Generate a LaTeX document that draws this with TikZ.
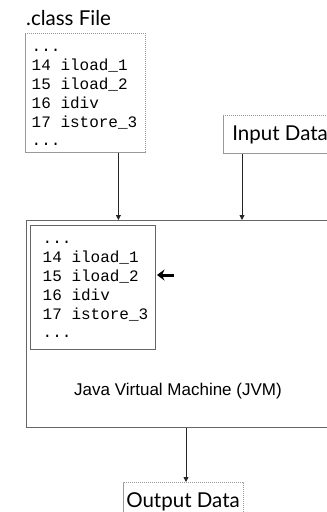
\documentclass[tikz,border=0pt]{standalone}
\usepackage{fontspec}
\setmainfont{Lato}
\newfontfamily\codefont{Liberation Mono}
\newfontfamily\jvmfont{Liberation Sans}
\usetikzlibrary{arrows.meta}
\newcommand{\codelines}{\begin{tabular}{@{}l@{}}...\\14 iload\_1\\15 iload\_2\\16 idiv\\17 istore\_3\\...\end{tabular}}
\tikzset{
  dashbox/.style={draw=gray!80, dash pattern=on 1.2pt off 0.8pt, line width=0.8pt, inner sep=0pt},
  codetext/.style={font=\codefont\fontsize{16}{18.8}\selectfont, inner sep=0pt, anchor=north west},
  titletext/.style={font=\fontsize{20.5}{24}\selectfont, inner sep=0pt},
  arr/.style={draw=black!85, line width=0.8pt, -{Triangle[length=5pt,width=5pt]}},
  solidbox/.style={draw=gray!80!black, line width=1pt, inner sep=0pt}
}
\begin{document}
\begin{tikzpicture}[x=1pt,y=-1pt]
\useasboundingbox (0,0) rectangle (327,512);
\clip (0,0) rectangle (327,512);
% .class file
\node[titletext, anchor=base west] (classtitle) at (26,25) {.class File};
\node[dashbox, anchor=north west, minimum width=120pt, minimum height=119pt] (classbox) at (25,33) {};
\node[codetext] (classcode) at (31.5,38.5) {\codelines};
% input data
\node[dashbox, titletext, anchor=north west, minimum height=38pt, inner xsep=9pt, text depth=5pt, text height=17pt] (inbox) at (223,115) {Input Data};
% JVM
\node[solidbox, anchor=north west, minimum width=304pt, minimum height=207pt] (jvm) at (26,220) {};
\node[solidbox, anchor=north west, minimum width=125pt, minimum height=124pt] (prog) at (30,225) {};
\node[codetext] (progcode) at (42.5,230.5) {\codelines};
\node[font=\jvmfont\fontsize{17}{20}\selectfont, anchor=base, inner sep=0pt] (jvmlabel) at (178,395) {Java Virtual Machine (JVM)};
% program counter arrow
\coordinate (pctail) at (174,275);
\coordinate (pctip) at (157,275);
\draw[line width=3pt, -{Stealth[length=7.5pt,width=11pt,inset=2.5pt]}] (pctail) -- (pctip);
% output data
\node[dashbox, titletext, anchor=north, minimum width=120pt, minimum height=40pt, text height=15pt, text depth=4pt] (outbox) at (183,482) {Output Data};
% connectors
\draw[arr] ([xshift=33pt]classbox.south) -- ([xshift=33pt]classbox.south |- jvm.north);
\draw[arr] ([xshift=19pt]inbox.south west) -- ([xshift=19pt]inbox.south west |- jvm.north);
\draw[arr] ([xshift=3pt]outbox.north |- jvm.south) -- ([xshift=3pt]outbox.north);
\end{tikzpicture}
\end{document}
